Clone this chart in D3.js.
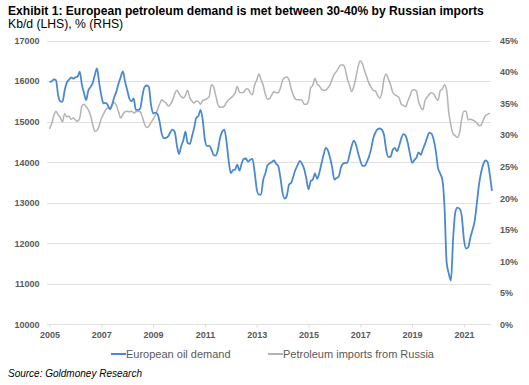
<!DOCTYPE html>
<html>
<head>
<meta charset="utf-8">
<script src="https://cdn.jsdelivr.net/npm/d3@7"></script>
<style>
  body { margin: 0; background: #fff; }
  svg { font-family: "Liberation Sans", Arial, sans-serif; }
</style>
</head>
<body>
<svg id="chart" width="529" height="385"></svg>
<script>
// monthly values, first point = Jan 2005
const startYear = 2005;
const demand = [
  15980, 15990, 16040, 16020, 15650, 15500, 15490, 15760, 15960, 16030, 16090, 16060,
  16090, 16110, 16230, 15910, 15700, 15530, 15770, 15850, 15950, 16150, 16310, 15960,
  15650, 15450, 15460, 15410, 15300, 15420, 15600, 15740, 15940, 16100, 16240, 15990,
  15780, 15570, 15500, 15570, 15290, 15290, 15320, 15620, 15850, 15890, 15860, 15430,
  15200, 15220, 15190, 15000, 14700, 14590, 14600, 14640, 14740, 14800, 14750, 14420,
  14200, 14390, 14540, 14750, 14470, 14450, 14630, 14840, 15090, 15140, 15290, 15040,
  14550, 14400, 14400, 14320, 14180, 14160, 14300, 14590, 14750, 14800, 14510, 14040,
  13730, 13800, 13820, 13940, 13790, 13960, 14080, 14090, 14010, 14060, 14080, 13780,
  13340, 13200, 13200, 13560, 13720, 13920, 13970, 14000, 14040, 13960, 13900, 13610,
  13240, 13100, 13180, 13450, 13490, 13650, 13820, 13930, 14030, 13960, 13830, 13590,
  13330, 13530, 13570, 13720, 13590, 13730, 13960, 14180, 14350, 14290, 14100, 13860,
  13570, 13610, 13640, 13860, 13960, 13980, 13990, 14180, 14400, 14530, 14430, 14220,
  14040, 13910, 13910, 14000, 14130, 14320, 14590, 14730, 14810, 14830, 14800, 14670,
  14300, 14130, 14130, 14300, 14350, 14270, 14400, 14590, 14690, 14650, 14470, 14210,
  13980, 14050, 14110, 14240, 14180, 14320, 14450, 14610, 14730, 14700, 14550, 14270,
  13860, 13720, 13570, 12920, 11530, 11250, 11080, 12100, 12760, 12880, 12850, 12670,
  12100, 11870, 11900, 12140, 12330, 12550, 12980, 13450, 13750, 13950, 14040, 14000,
  13690, 13290
];
const russiaShare = [
  31.0, 31.8, 33.1, 33.8, 33.2, 32.8, 32.1, 33.4, 32.9, 33.0, 32.5, 32.7,
  32.4, 32.2, 32.7, 34.6, 34.9, 34.5, 34.0, 33.1, 31.7, 30.6, 30.7, 31.5,
  32.6, 33.3, 34.0, 34.3, 34.2, 34.7, 35.2, 34.7, 33.7, 32.7, 33.3, 33.7,
  33.8, 33.7, 33.8, 33.5, 33.7, 33.8, 33.7, 32.9, 31.8, 31.2, 31.4, 32.0,
  32.5, 33.1, 34.0, 34.9, 35.6, 35.3, 35.1, 34.6, 34.9, 35.5, 36.5, 37.1,
  36.6, 36.1, 35.9, 36.3, 37.1, 35.9, 35.4, 35.1, 35.4, 35.3, 34.9, 35.5,
  35.6, 35.8, 36.1, 38.0, 37.7, 36.3, 34.9, 34.4, 34.4, 34.6, 35.2, 35.6,
  35.9, 36.2, 36.7, 37.7, 36.8, 36.7, 36.8, 37.3, 37.3, 36.7, 36.4, 37.9,
  38.7, 39.7, 38.8, 37.9, 36.5, 35.7, 35.8, 36.4, 36.9, 36.7, 36.7, 37.5,
  38.7, 39.1, 39.2, 38.7, 37.3, 36.3, 35.7, 35.6, 35.6, 35.5, 34.9, 34.9,
  35.4, 37.5, 37.9, 39.0, 38.1, 37.8, 37.3, 37.1, 37.1, 37.5, 38.0, 38.9,
  39.7, 40.1, 40.7, 41.1, 41.1, 40.5, 38.9, 37.9, 36.9, 37.7, 39.2, 40.9,
  41.8, 41.3, 40.2, 39.2, 38.2, 37.6, 37.1, 37.0, 36.3, 35.9, 36.7, 38.9,
  39.7, 38.9, 38.0, 36.8, 36.4, 36.2, 35.9, 34.9, 34.7, 34.5, 35.4, 36.2,
  37.1, 37.2, 37.0, 35.3, 34.4, 34.0, 35.5, 36.0, 36.5, 36.7, 36.5, 35.9,
  35.5, 37.0, 37.3, 38.0, 37.1, 33.6, 31.5, 30.2, 29.9, 29.6, 30.4, 32.6,
  33.8, 33.8, 32.4, 32.5, 32.4, 32.2, 31.9, 31.5, 31.6, 32.4, 33.1, 33.3,
  33.5
];
const yearLabels = [2005, 2007, 2009, 2011, 2013, 2015, 2017, 2019, 2021];
const leftTicks = [10000, 11000, 12000, 13000, 14000, 15000, 16000, 17000];
const rightTicks = [0, 5, 10, 15, 20, 25, 30, 35, 40, 45];

const svg = d3.select("#chart");
const plotLeft = 47, plotRight = 491, plotTop = 40.5, plotBottom = 324.3;
const blue = "#4a89d0", grey = "#b3b3b3", labelColor = "#595959";

// month index -> x
const x = d3.scaleLinear().domain([0, 204]).range([49.5, 489.8]);
const yL = d3.scaleLinear().domain([10000, 17000]).range([plotBottom, plotTop]);
const yR = d3.scaleLinear().domain([0, 45]).range([plotBottom, plotTop]);

// title
svg.append("text").attr("x", 8).attr("y", 15)
  .style("font-size", "12.1px").style("font-weight", "bold").attr("fill", "#000")
  .text("Exhibit 1: European petroleum demand is met between 30-40% by Russian imports");
svg.append("text").attr("x", 8).attr("y", 27.5)
  .style("font-size", "12.2px").attr("fill", "#000")
  .text("Kb/d (LHS), % (RHS)");

// gridlines
svg.append("g").selectAll("line").data(leftTicks).enter().append("line")
  .attr("x1", plotLeft).attr("x2", plotRight)
  .attr("y1", d => Math.round(yL(d)) + 0.5).attr("y2", d => Math.round(yL(d)) + 0.5)
  .attr("stroke", "#e0e0e0").attr("stroke-width", 1);

// left axis
const axL = svg.append("g").attr("transform", "translate(" + 39.5 + ",0)")
  .call(d3.axisLeft(yL).tickValues(leftTicks).tickSize(0).tickPadding(0).tickFormat(d3.format("d")));
axL.select(".domain").remove();
axL.selectAll("text").style("font-size", "9px").style("font-weight", "bold")
  .style("font-family", "Liberation Sans, Arial, sans-serif").attr("fill", labelColor);

// right axis
const axR = svg.append("g").attr("transform", "translate(" + 500 + ",0)")
  .call(d3.axisRight(yR).tickValues(rightTicks).tickSize(0).tickPadding(0).tickFormat(d => d + "%"));
axR.select(".domain").remove();
axR.selectAll("text").style("font-size", "9px").style("font-weight", "bold")
  .style("font-family", "Liberation Sans, Arial, sans-serif").attr("fill", labelColor);

// bottom axis
const axB = svg.append("g").attr("transform", "translate(0," + (Math.round(plotBottom) + 0.5) + ")")
  .call(d3.axisBottom(x).tickValues(yearLabels.map(yr => (yr - startYear) * 12))
    .tickSize(3).tickPadding(4).tickFormat((d, i) => yearLabels[i]));
axB.select(".domain").remove();
axB.selectAll("line").attr("stroke", "#d9d9d9");
axB.selectAll("text").style("font-size", "9px").style("font-weight", "bold")
  .style("font-family", "Liberation Sans, Arial, sans-serif").attr("fill", labelColor);

// lines
const lineL = d3.line().x((d, i) => x(i)).y(d => yL(d)).curve(d3.curveMonotoneX);
const lineR = d3.line().x((d, i) => x(i)).y(d => yR(d)).curve(d3.curveMonotoneX);

svg.append("path").datum(russiaShare).attr("d", lineR)
  .attr("fill", "none").attr("stroke", grey).attr("stroke-width", 1.5);
svg.append("path").datum(demand).attr("d", lineL)
  .attr("fill", "none").attr("stroke", blue).attr("stroke-width", 1.8);

// legend
const legend = [
  { name: "European oil demand", color: blue, x: 111 },
  { name: "Petroleum imports from Russia", color: grey, x: 268 }
];
const lg = svg.append("g").selectAll("g").data(legend).enter().append("g");
lg.append("line").attr("x1", d => d.x).attr("x2", d => d.x + 15)
  .attr("y1", 354).attr("y2", 354).attr("stroke", d => d.color).attr("stroke-width", 2);
lg.append("text").attr("x", d => d.x + 15).attr("y", 358)
  .style("font-size", "11px").attr("fill", labelColor).text(d => d.name);

// source
svg.append("text").attr("x", 8).attr("y", 377)
  .style("font-size", "10px").style("font-style", "italic").attr("fill", "#000")
  .text("Source: Goldmoney Research");
</script>
</body>
</html>
